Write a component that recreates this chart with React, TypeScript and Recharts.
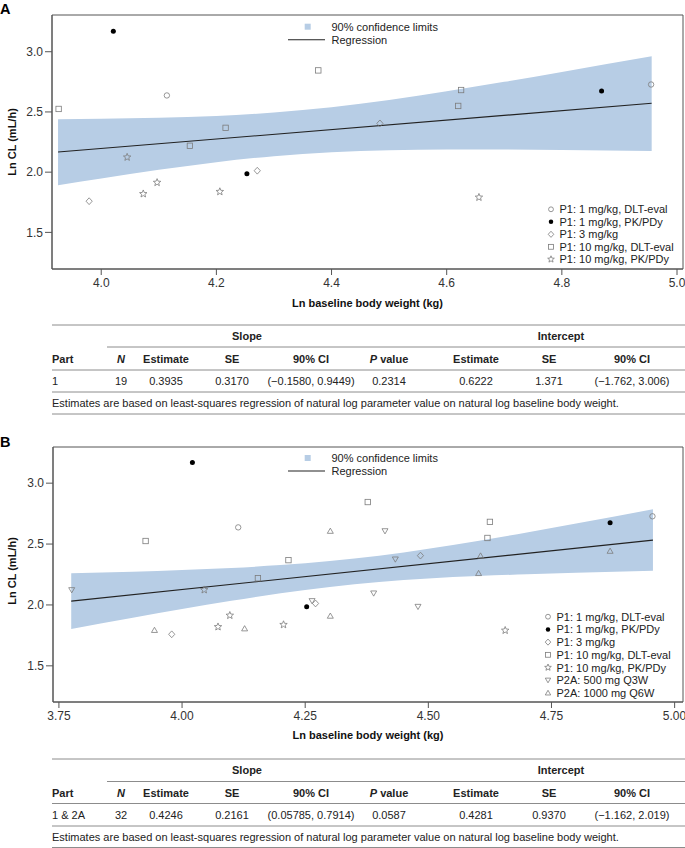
import React from 'react';
import { ComposedChart, Area, Line, Scatter, XAxis, YAxis, ReferenceArea } from 'recharts';

// Part 1 points (same patients in A and B)
const P1_DLT_X = [4.114, 4.955];
const P1_DLT_Y = [2.637, 2.728];
const P1_PK_X = [4.021, 4.253, 4.869];
const P1_PK_Y = [3.17, 1.986, 2.674];
const P1_3_X = [3.979, 4.271, 4.484];
const P1_3_Y = [1.759, 2.012, 2.405];
const P1_10DLT_X = [3.926, 4.377, 4.216, 4.154, 4.625, 4.62];
const P1_10DLT_Y = [2.525, 2.845, 2.368, 2.219, 2.682, 2.55];
const P1_10PK_X = [4.045, 4.097, 4.073, 4.206, 4.656];
const P1_10PK_Y = [2.124, 1.914, 1.82, 1.838, 1.791];
// Part 2A points (panel B only)
const P2A_500_X = [3.776, 4.264, 4.412, 4.433, 4.389, 4.479];
const P2A_500_Y = [2.123, 2.033, 2.607, 2.375, 2.096, 1.986];
const P2A_1000_X = [3.944, 4.127, 4.301, 4.301, 4.606, 4.602, 4.869];
const P2A_1000_Y = [1.793, 1.806, 2.607, 1.91, 2.404, 2.26, 2.443];

// regression + 90% confidence band, panel A
const REG_A_X = [3.925, 4.956];
const REG_A_Y = [2.167, 2.572];
const BAND_A_X = [3.925, 4.0, 4.1, 4.2, 4.3, 4.4, 4.5, 4.6, 4.7, 4.8, 4.956];
const BAND_A_LO = [1.892, 1.948, 2.02, 2.083, 2.133, 2.166, 2.182, 2.189, 2.189, 2.184, 2.176];
const BAND_A_HI = [2.44, 2.444, 2.451, 2.466, 2.496, 2.54, 2.6, 2.671, 2.75, 2.832, 2.962];

// regression + 90% confidence band, panel B
const REG_B_X = [3.775, 4.956];
const REG_B_Y = [2.031, 2.532];
const BAND_B_X = [3.775, 3.9, 4.0, 4.1, 4.2, 4.3, 4.4, 4.5, 4.6, 4.7, 4.8, 4.956];
const BAND_B_LO = [1.802, 1.895, 1.966, 2.034, 2.096, 2.148, 2.188, 2.217, 2.237, 2.252, 2.264, 2.28];
const BAND_B_HI = [2.26, 2.273, 2.287, 2.304, 2.327, 2.36, 2.404, 2.461, 2.526, 2.595, 2.668, 2.785];

const X_TICKS_A = [4.0, 4.2, 4.4, 4.6, 4.8, 5.0];
const X_TICKS_B = [3.75, 4.0, 4.25, 4.5, 4.75, 5.0];
const Y_TICKS = [1.5, 2.0, 2.5, 3.0];

const SERIES_A = ['P1: 1 mg/kg, DLT-eval', 'P1: 1 mg/kg, PK/PDy', 'P1: 3 mg/kg', 'P1: 10 mg/kg, DLT-eval', 'P1: 10 mg/kg, PK/PDy'];
const SERIES_B = [...SERIES_A, 'P2A: 500 mg Q3W', 'P2A: 1000 mg Q6W'];
const KINDS = ['circle', 'dot', 'diamond', 'square', 'star', 'tdown', 'tup'];

const TABLE_HEAD = ['Part', 'N', 'Estimate', 'SE', '90% CI', 'P value', 'Estimate', 'SE', '90% CI'];
const ROW_A = ['1', '19', '0.3935', '0.3170', '(\u22120.1580, 0.9449)', '0.2314', '0.6222', '1.371', '(\u22121.762, 3.006)'];
const ROW_B = ['1 & 2A', '32', '0.4246', '0.2161', '(0.05785, 0.7914)', '0.0587', '0.4281', '0.9370', '(\u22121.162, 2.019)'];
const FOOTNOTE = 'Estimates are based on least-squares regression of natural log parameter value on natural log baseline body weight.';

const BAND_COLOR = '#b7cde5';
const MARK = '#7c7c7c';
const FONT = '"Liberation Sans", Arial, Helvetica, sans-serif';

const pts = (xs: number[], ys: number[]) => xs.map((x, i) => ({ x, y: ys[i] }));
const band = (xs: number[], lo: number[], hi: number[]) => xs.map((x, i) => ({ x, band: [lo[i], hi[i]] }));

const starPath = (cx: number, cy: number, ro: number, ri: number) => {
  let d = '';
  for (let i = 0; i < 10; i++) {
    const r = i % 2 === 0 ? ro : ri;
    const a = -Math.PI / 2 + (i * Math.PI) / 5;
    d += (i === 0 ? 'M' : 'L') + (cx + r * Math.cos(a)).toFixed(2) + ',' + (cy + r * Math.sin(a)).toFixed(2);
  }
  return d + 'Z';
};

const Marker = ({ kind, cx, cy, s = 1 }: { kind: string; cx: number; cy: number; s?: number }) => {
  const common = { fill: 'none', stroke: MARK, strokeWidth: 0.8 };
  switch (kind) {
    case 'circle':
      return <circle cx={cx} cy={cy} r={2.7 * s} {...common} />;
    case 'dot':
      return <circle cx={cx} cy={cy} r={2.5 * s} fill="#000" />;
    case 'diamond':
      return <path d={`M${cx},${cy - 3.4 * s}L${cx + 3.1 * s},${cy}L${cx},${cy + 3.4 * s}L${cx - 3.1 * s},${cy}Z`} {...common} />;
    case 'square':
      return <rect x={cx - 2.7 * s} y={cy - 2.7 * s} width={5.4 * s} height={5.4 * s} {...common} />;
    case 'star':
      return <path d={starPath(cx, cy, 3.9 * s, 1.7 * s)} {...common} />;
    case 'tdown':
      return <path d={`M${cx - 3 * s},${cy - 2.3 * s}L${cx + 3 * s},${cy - 2.3 * s}L${cx},${cy + 2.9 * s}Z`} {...common} />;
    case 'tup':
      return <path d={`M${cx - 3 * s},${cy + 2.3 * s}L${cx + 3 * s},${cy + 2.3 * s}L${cx},${cy - 2.9 * s}Z`} {...common} />;
    default:
      return null;
  }
};

const shapeFor = (kind: string) => (p: any) => <Marker kind={kind} cx={p.cx} cy={p.cy} />;

type PanelProps = {
  top: number;
  height: number;
  yAxisWidth: number;
  xDomain: number[];
  yDomain: number[];
  xTicks: number[];
  digits: number;
  bandData: any[];
  regData: any[];
  groups: { x: number[]; y: number[] }[];
};

const Panel = ({ top, height, yAxisWidth, xDomain, yDomain, xTicks, digits, bandData, regData, groups }: PanelProps) => (
  <div style={{ position: 'absolute', left: 0, top }}>
    <ComposedChart width={685} height={height} margin={{ top: 15, right: 2, left: 0, bottom: 0 }}>
      <XAxis
        type="number"
        dataKey="x"
        domain={xDomain}
        ticks={xTicks}
        allowDataOverflow
        tickFormatter={(v: number) => v.toFixed(digits)}
        height={31}
        tickSize={6}
        tickMargin={3}
        stroke="#555"
        tick={{ fill: '#333', fontSize: 12, fontFamily: FONT }}
      />
      <YAxis
        type="number"
        domain={yDomain}
        ticks={Y_TICKS}
        allowDataOverflow
        tickFormatter={(v: number) => v.toFixed(1)}
        width={yAxisWidth}
        tickSize={7}
        tickMargin={2}
        stroke="#555"
        tick={{ fill: '#333', fontSize: 12, fontFamily: FONT }}
      />
      <Area data={bandData} dataKey="band" type="monotone" stroke="none" fill={BAND_COLOR} fillOpacity={1} isAnimationActive={false} />
      <Line data={regData} dataKey="y" type="linear" stroke="#222" strokeWidth={1.1} dot={false} isAnimationActive={false} />
      {groups.map((g, i) => (
        <Scatter key={i} data={pts(g.x, g.y)} dataKey="y" shape={shapeFor(KINDS[i])} isAnimationActive={false} />
      ))}
      <ReferenceArea x1={xDomain[0]} x2={xDomain[1]} y1={yDomain[0]} y2={yDomain[1]} fill="none" stroke="#555" strokeWidth={1} />
    </ComposedChart>
  </div>
);

const TopLegend = ({ y }: { y: number }) => (
  <g>
    <rect x={304.7} y={y - 3} width={6} height={6} fill={BAND_COLOR} />
    <text x={331.5} y={y + 4} fontSize={11} fill="#222">90% confidence limits</text>
    <line x1={288} x2={325} y1={y + 13} y2={y + 13} stroke="#222" strokeWidth={1.1} />
    <text x={331.5} y={y + 17} fontSize={11} fill="#222">Regression</text>
  </g>
);

const SymbolLegend = ({ names, symX, y0, step }: { names: string[]; symX: number; y0: number; step: number }) => (
  <g>
    {names.map((n, i) => (
      <g key={n}>
        <Marker kind={KINDS[i]} cx={symX} cy={y0 + i * step} s={0.9} />
        <text x={symX + 8.5} y={y0 + i * step + 4} fontSize={11} fill="#222">{n}</text>
      </g>
    ))}
  </g>
);

const COL_X = [52, 121, 166, 232, 311, 389, 476, 549, 632];

const StatTable = ({ t, row, rules }: { t: number; row: string[]; rules: number[] }) => {
  const rc = '#8c8c8c';
  const mid = (a: number, b: number) => t + (rules[a] + rules[b]) / 2 + 4;
  return (
    <g fontSize={11} fill="#222">
      <line x1={52} x2={685} y1={t + rules[0]} y2={t + rules[0]} stroke={rc} />
      <line x1={107} x2={685} y1={t + rules[1]} y2={t + rules[1]} stroke={rc} />
      <line x1={52} x2={685} y1={t + rules[2]} y2={t + rules[2]} stroke={rc} />
      <line x1={52} x2={685} y1={t + rules[3]} y2={t + rules[3]} stroke={rc} />
      <line x1={52} x2={685} y1={t + rules[4]} y2={t + rules[4]} stroke={rc} />
      <text x={247} y={mid(0, 1)} fontWeight="bold" textAnchor="middle">Slope</text>
      <text x={561} y={mid(0, 1)} fontWeight="bold" textAnchor="middle">Intercept</text>
      {TABLE_HEAD.map((h, i) => (
        <text key={i} x={COL_X[i]} y={mid(1, 2)} fontWeight="bold" textAnchor={i === 0 ? 'start' : 'middle'}>
          {h === 'N' ? <tspan fontStyle="italic">N</tspan> : h === 'P value' ? (
            <>
              <tspan fontStyle="italic">P</tspan>
              <tspan> value</tspan>
            </>
          ) : h}
        </text>
      ))}
      {row.map((v, i) => (
        <text key={i} x={COL_X[i]} y={mid(2, 3)} textAnchor={i === 0 ? 'start' : 'middle'}>{v}</text>
      ))}
      <text x={52} y={mid(3, 4)}>{FOOTNOTE}</text>
    </g>
  );
};

const App = () => {
  const groupsA = [
    { x: P1_DLT_X, y: P1_DLT_Y },
    { x: P1_PK_X, y: P1_PK_Y },
    { x: P1_3_X, y: P1_3_Y },
    { x: P1_10DLT_X, y: P1_10DLT_Y },
    { x: P1_10PK_X, y: P1_10PK_Y },
  ];
  const groupsB = [...groupsA, { x: P2A_500_X, y: P2A_500_Y }, { x: P2A_1000_X, y: P2A_1000_Y }];

  return (
    <div style={{ position: 'absolute', left: 0, top: 0, width: 685, height: 848, background: '#fff', fontFamily: FONT, overflow: 'hidden' }}>
      <Panel
        top={0}
        height={300}
        yAxisWidth={52}
        xDomain={[3.9145, 5.0104]}
        yDomain={[1.196, 3.305]}
        xTicks={X_TICKS_A}
        digits={1}
        bandData={band(BAND_A_X, BAND_A_LO, BAND_A_HI)}
        regData={pts(REG_A_X, REG_A_Y)}
        groups={groupsA}
      />
      <Panel
        top={432}
        height={301}
        yAxisWidth={53}
        xDomain={[3.738, 5.017]}
        yDomain={[1.203, 3.297]}
        xTicks={X_TICKS_B}
        digits={2}
        bandData={band(BAND_B_X, BAND_B_LO, BAND_B_HI)}
        regData={pts(REG_B_X, REG_B_Y)}
        groups={groupsB}
      />
      <svg width={685} height={848} style={{ position: 'absolute', left: 0, top: 0, pointerEvents: 'none' }} fontFamily={FONT}>
        <text x={0} y={13.5} fontSize={14.5} fontWeight="bold" fill="#000">A</text>
        <text x={0} y={446.5} fontSize={14.5} fontWeight="bold" fill="#000">B</text>
        <text transform="translate(16,142) rotate(-90)" textAnchor="middle" fontSize={11} fontWeight="bold" fill="#111">Ln CL (mL/h)</text>
        <text transform="translate(16,571) rotate(-90)" textAnchor="middle" fontSize={11} fontWeight="bold" fill="#111">Ln CL (mL/h)</text>
        <text x={367.5} y={306.5} textAnchor="middle" fontSize={11} fontWeight="bold" fill="#111">Ln baseline body weight (kg)</text>
        <text x={368} y={739} textAnchor="middle" fontSize={11} fontWeight="bold" fill="#111">Ln baseline body weight (kg)</text>
        <TopLegend y={26.7} />
        <TopLegend y={458} />
        <SymbolLegend names={SERIES_A} symX={551} y0={209.3} step={12.5} />
        <SymbolLegend names={SERIES_B} symX={548} y0={616.7} step={12.7} />
        <StatTable t={325} row={ROW_A} rules={[0, 22, 45, 67, 89]} />
        <StatTable t={759} row={ROW_B} rules={[0, 22.5, 44.5, 67, 88.5]} />
      </svg>
    </div>
  );
};

export default App;
